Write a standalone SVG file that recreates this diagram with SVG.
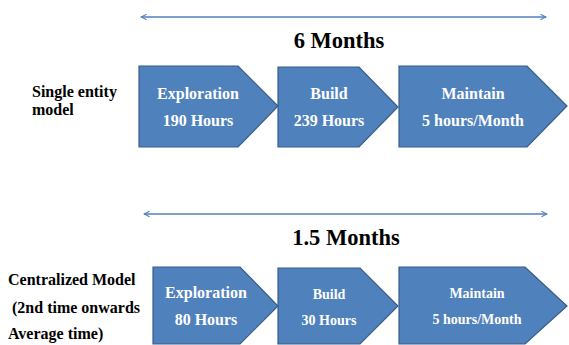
<svg xmlns="http://www.w3.org/2000/svg" width="569" height="345" viewBox="0 0 569 345">
<defs>
<style>
.chev{fill:#4F81BD;stroke:#385D8A;stroke-width:1.2}
.w{fill:#fff;font-family:"Liberation Serif","Times New Roman",serif;font-weight:bold;font-size:16px;text-anchor:middle}
.s14{font-size:14px}
.lbl{fill:#000;font-family:"Liberation Serif","Times New Roman",serif;font-weight:bold;font-size:16px}
.dur{fill:#000;font-family:"Liberation Serif","Times New Roman",serif;font-weight:bold;font-size:22.5px;text-anchor:middle}
.conn{stroke:#4F81BD;stroke-width:1.5;fill:none}
</style>
<marker id="ah" viewBox="0 0 10 10" refX="9" refY="5" markerWidth="7" markerHeight="7" orient="auto-start-reverse" markerUnits="userSpaceOnUse">
<path d="M1,1 L9,5 L1,9" fill="none" stroke="#4F81BD" stroke-width="1.5"/>
</marker>
</defs>
<rect width="569" height="345" fill="#fff"/>
<g id="connectors">
<line class="conn" x1="141" y1="17" x2="546" y2="17" marker-start="url(#ah)" marker-end="url(#ah)"/>
<line class="conn" x1="144" y1="214" x2="547" y2="214" marker-start="url(#ah)" marker-end="url(#ah)"/>
</g>
<g id="dur1"><text class="dur" x="339" y="48">6 Months</text></g>
<g id="dur2"><text class="dur" x="346" y="245">1.5 Months</text></g>
<g id="label1">
<text class="lbl" x="32" y="97">Single entity</text>
<text class="lbl" x="32" y="115">model</text>
</g>
<g id="label2">
<text class="lbl" x="8" y="285">Centralized Model</text>
<text class="lbl" x="12" y="313">(2nd time onwards</text>
<text class="lbl" x="8" y="339">Average time)</text>
</g>
<g id="exp1">
<polygon class="chev" points="139,66 238,66 278,106 238,147 139,147"/>
<text class="w" x="198" y="99">Exploration</text>
<text class="w" x="198" y="126">190 Hours</text>
</g>
<g id="build1">
<polygon class="chev" points="278,67 359,67 398,107 359,147 278,147"/>
<text class="w" x="329" y="99">Build</text>
<text class="w" x="329" y="126">239 Hours</text>
</g>
<g id="maint1">
<polygon class="chev" points="399,66 527,66 567,106 527,147 399,147"/>
<text class="w" x="473" y="99">Maintain</text>
<text class="w" x="473" y="126">5 hours/Month</text>
</g>
<g id="exp2">
<polygon class="chev" points="153,267 240,267 278,306 240,344 153,344"/>
<text class="w" x="206" y="298">Exploration</text>
<text class="w" x="206" y="325">80 Hours</text>
</g>
<g id="build2">
<polygon class="chev" points="278,268 360,268 398,306 360,344 278,344"/>
<text class="w s14" x="329" y="299">Build</text>
<text class="w s14" x="329" y="325">30 Hours</text>
</g>
<g id="maint2">
<polygon class="chev" points="399,267 525,267 567,306 525,344 399,344"/>
<text class="w s14" x="477" y="298">Maintain</text>
<text class="w s14" x="477" y="324">5 hours/Month</text>
</g>
</svg>
